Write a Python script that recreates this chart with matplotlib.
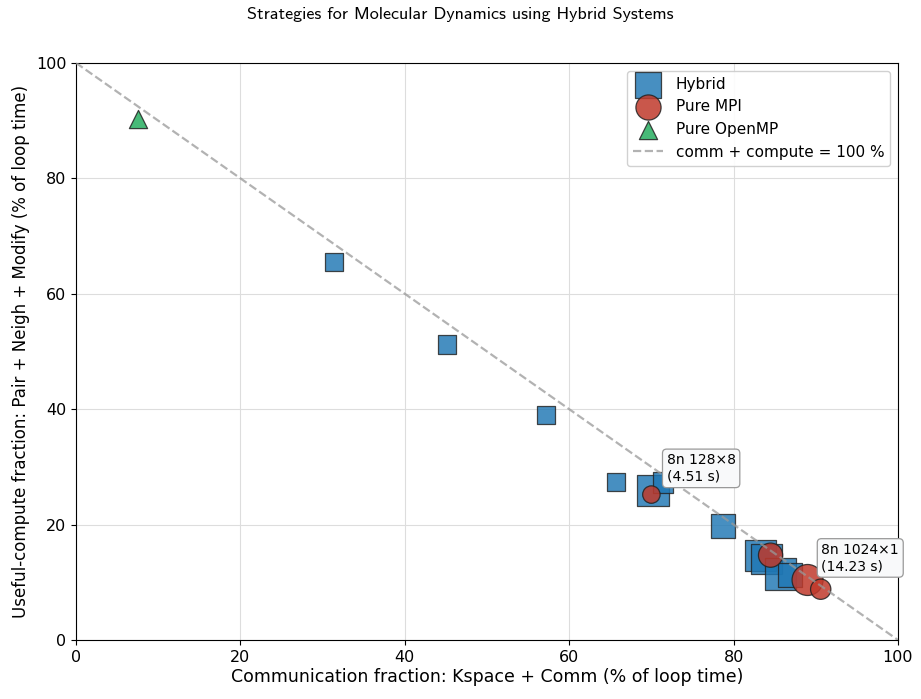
"""Comm vs compute fraction for MD strategies on hybrid systems."""

import matplotlib
matplotlib.use("Agg")
import matplotlib.pyplot as plt

# Hybrid MPI+OpenMP runs
hybrid_comm = [31.4, 45.1, 57.2, 65.7, 70.2, 71.4, 78.7, 83.3, 84.0, 85.7, 86.9]
hybrid_compute = [65.5, 51.2, 39.0, 27.4, 25.9, 27.3, 19.7, 14.6, 14.0, 11.4, 11.3]
hybrid_time = [4.9, 5.0, 5.0, 4.9, 14.5, 6.0, 8.7, 14.2, 13.5, 15.0, 8.7]

# Pure MPI runs
mpi_comm = [70.0, 84.5, 89.0, 90.6]
mpi_compute = [25.2, 14.7, 10.4, 8.8]
mpi_time = [4.51, 8.7, 14.23, 6.1]

# Pure OpenMP run
omp_comm = [7.5]
omp_compute = [90.2]
omp_time = [4.9]

labelled = [
    ("8n 128×8", 70.0, 25.2, 4.51),
    ("8n 1024×1", 89.0, 10.4, 14.23),
]

SIZE_SCALE = 35


def sizes(times):
    return [SIZE_SCALE * t for t in times]


def main() -> None:
    fig, ax = plt.subplots(figsize=(9.21, 6.99), dpi=100)
    fig.subplots_adjust(left=0.0825, right=0.975, top=0.910, bottom=0.0844)

    ax.scatter(hybrid_comm, hybrid_compute, s=sizes(hybrid_time), marker="s",
               color="#1f77b4", alpha=0.82, edgecolors="#222222", linewidths=0.9,
               label="Hybrid", zorder=3)
    ax.scatter(mpi_comm, mpi_compute, s=sizes(mpi_time), marker="o",
               color="#c0392b", alpha=0.85, edgecolors="#222222", linewidths=0.9,
               label="Pure MPI", zorder=4)
    ax.scatter(omp_comm, omp_compute, s=sizes(omp_time), marker="^",
               color="#27ae60", alpha=0.85, edgecolors="#222222", linewidths=0.9,
               label="Pure OpenMP", zorder=4)
    ax.plot([0, 100], [100, 0], ls="--", color="#999999", lw=1.6, alpha=0.75,
            label="comm + compute = 100 %", zorder=5)

    offsets = [(11, 8), (10, 5)]
    for (name, x, y, t), off in zip(labelled, offsets):
        ax.annotate(f"{name}\n({t:.2f} s)", (x, y), xytext=off,
                    textcoords="offset points", fontsize=10, ha="left", va="bottom",
                    bbox=dict(boxstyle="round,pad=0.3", fc="#f8f9fa", ec="#999999",
                              lw=0.9), zorder=6)

    ax.set_xlim(0, 100)
    ax.set_ylim(0, 100)
    ax.grid(True, color="#dddddd", lw=0.8)
    ax.set_axisbelow(True)
    ax.tick_params(labelsize=11.5)
    ax.set_xlabel("Communication fraction: Kspace + Comm (% of loop time)", fontsize=12.5,
                  labelpad=2)
    ax.set_ylabel("Useful-compute fraction: Pair + Neigh + Modify (% of loop time)",
                  fontsize=12)

    ax.legend(loc="upper right", fontsize=11, framealpha=0.9)

    fig.suptitle("Strategies for Molecular Dynamics using Hybrid Systems",
                 fontsize=13, family=["cmss10", "DejaVu Sans"], y=0.99)

    fig.savefig("out.png", dpi=100)
    plt.close(fig)


if __name__ == "__main__":
    main()
